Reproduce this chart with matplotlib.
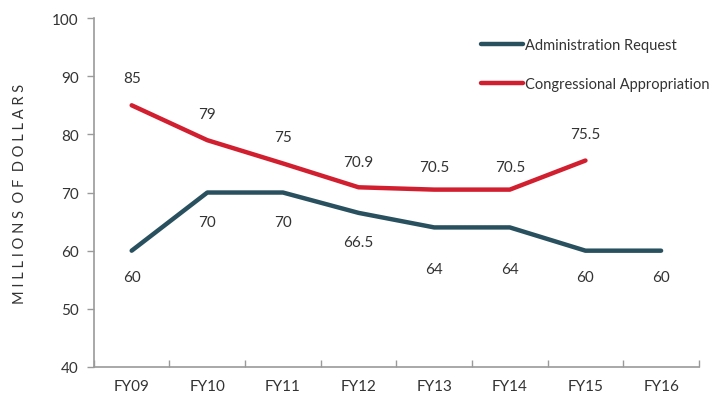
import matplotlib
matplotlib.use("Agg")
import matplotlib.pyplot as plt
import numpy as np

categories = ["FY09", "FY10", "FY11", "FY12", "FY13", "FY14", "FY15", "FY16"]
admin_request = [60, 70, 70, 66.5, 64, 64, 60, 60]
congress_approp = [85, 79, 75, 70.9, 70.5, 70.5, 75.5]
admin_labels = ["60", "70", "70", "66.5", "64", "64", "60", "60"]
congress_labels = ["85", "79", "75", "70.9", "70.5", "70.5", "75.5"]

# label offsets in points (styling)
admin_off = [-19, -21, -21, -21, -30, -30, -19, -19]
congress_off = [20, 19, 19, 18, 16, 16, 19]

plt.rcParams['font.family'] = ['Lato', 'DejaVu Sans']
fig = plt.figure(figsize=(7.22, 4.02), dpi=100)
ax = fig.add_axes([0.130, 0.0846, 0.838, 0.868])

navy = "#29505f"
red = "#d21f2f"
gray = "#9a9a9a"
textc = "#333333"

x = np.arange(len(categories))
ax.plot(x, admin_request, color=navy, lw=3.2, solid_capstyle='round',
        solid_joinstyle='round', label="Administration Request")
xc = np.arange(len(congress_approp))
ax.plot(xc, congress_approp, color=red, lw=3.2, solid_capstyle='round',
        solid_joinstyle='round', label="Congressional Appropriation")

for xi, v, lab, off in zip(x, admin_request, admin_labels, admin_off):
    ax.annotate(lab, (xi, v), xytext=(0, off), textcoords='offset points',
                ha='center', va='center', fontsize=11, color=textc)
for xi, v, lab, off in zip(xc, congress_approp, congress_labels, congress_off):
    ax.annotate(lab, (xi, v), xytext=(0, off), textcoords='offset points',
                ha='center', va='center', fontsize=11, color=textc)

ax.set_xlim(-0.5, len(categories) - 0.5)
ax.set_ylim(40, 100)
ax.set_yticks(np.arange(40, 101, 10))
ax.set_xticks(x)
ax.set_xticklabels(categories)
ax.set_xticks(np.arange(-0.5, len(categories), 1), minor=True)
ax.tick_params(axis='x', which='major', length=0, pad=9, labelsize=11, labelcolor=textc)
ax.tick_params(axis='x', which='minor', direction='in', length=5, color=gray, width=1)
ax.tick_params(axis='y', direction='out', length=5, color=gray, width=1, pad=6,
               labelsize=11, labelcolor=textc)

for s in ['top', 'right']:
    ax.spines[s].set_visible(False)
for s in ['left', 'bottom']:
    ax.spines[s].set_color(gray)
    ax.spines[s].set_linewidth(1.2)

ax.set_ylabel("M I L L I O N S   O F   D O L L A R S".replace("   ", "  "),
              fontsize=10.5, color=textc, labelpad=18)

leg = ax.legend(loc='upper right', bbox_to_anchor=(1.04, 0.98), frameon=False,
                fontsize=10.5, handlelength=2.9, handletextpad=0.15,
                labelspacing=1.7, labelcolor=textc)

fig.savefig("out.png", dpi=100)
